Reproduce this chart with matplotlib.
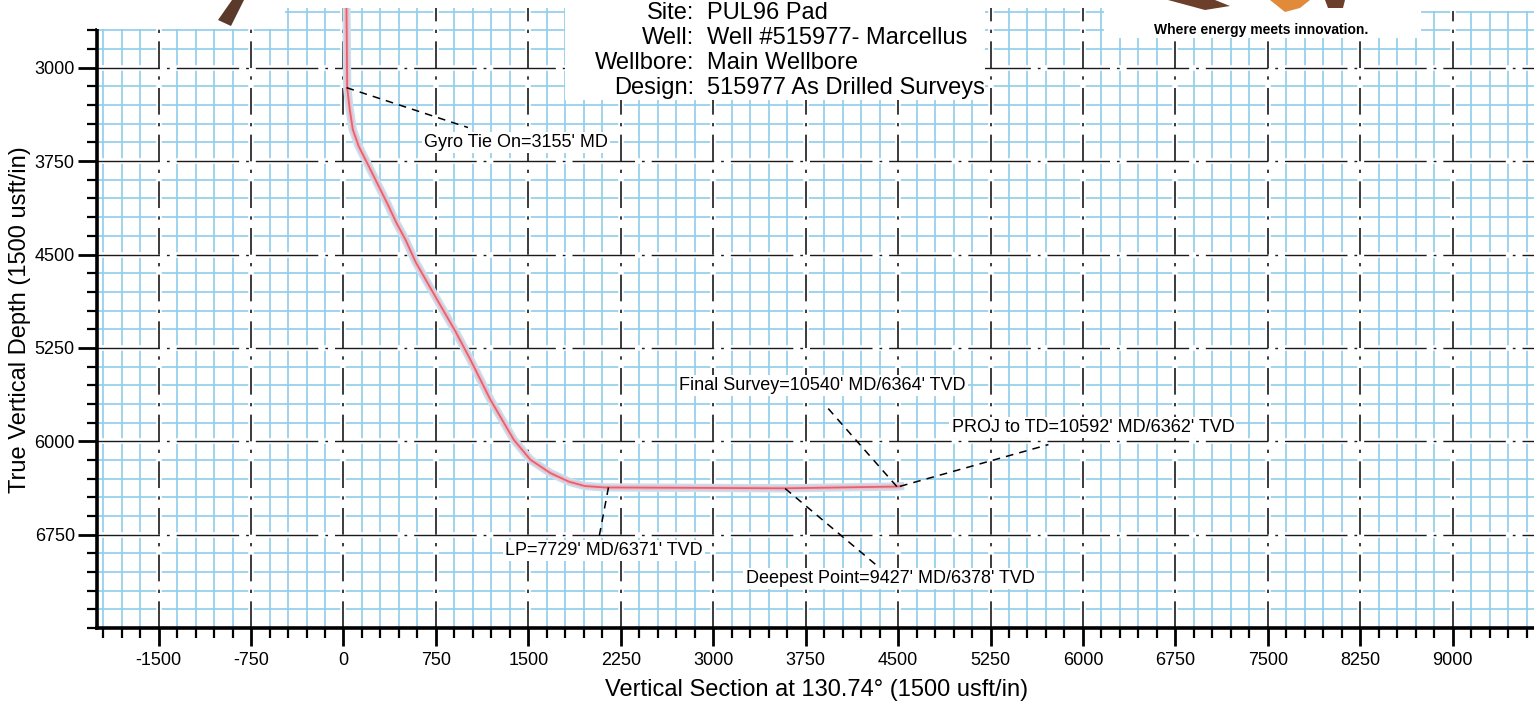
import numpy as np
import matplotlib.pyplot as plt
from matplotlib.patches import Rectangle, Polygon
from matplotlib.ticker import FixedLocator

plt.rcParams['font.family'] = ['Liberation Sans', 'DejaVu Sans']

# well path (vertical section vs true vertical depth), usft
vs_ft = [0, 25, 30, 51, 76, 124, 192, 273, 354, 430, 503, 585, 760, 908,
         1030, 1192, 1381, 1516, 1678, 1830, 1960, 2120, 2800, 3580, 4490, 4516]
tvd_ft = [0, 2600, 3160, 3337, 3498, 3632, 3765, 3926, 4087, 4247, 4381,
          4560, 4863, 5117, 5345, 5666, 5987, 6148, 6255, 6325, 6360, 6371,
          6374, 6378, 6364, 6362]

# annotations: text, point on the well, leader end, label centre
ann_text = ["Gyro Tie On=3155' MD", "LP=7729' MD/6371' TVD",
            "Final Survey=10540' MD/6364' TVD",
            "PROJ to TD=10592' MD/6362' TVD",
            "Deepest Point=9427' MD/6378' TVD"]
ann_pt = [(25, 3160), (2150, 6371), (4490, 6364), (4516, 6362), (3584, 6380)]
ann_end = [(1010, 3480), (2070, 6790), (3900, 5700), (5720, 6027), (4330, 7000)]
ann_lbl = [(1400, 3600), (2110, 6880), (3884, 5553), (6081, 5891), (4435, 7103)]

header_keys = ["Site:", "Well:", "Wellbore:", "Design:"]
header_vals = ["PUL96 Pad", "Well #515977- Marcellus", "Main Wellbore",
               "515977 As Drilled Surveys"]

x_major = np.arange(-1500, 9001, 750)
y_major = np.arange(3000, 6751, 750)

W, H = 1534, 708
fig = plt.figure(figsize=(W / 100, H / 100), dpi=100)
ax = fig.add_axes([97 / W, 1 - 628 / H, 1 - 97 / W, 620 / H])
ax.set_xlim(-2000, 9660)
ax.set_ylim(7500, 2520)

# blue graph-paper grid every 150 usft
for x in np.arange(-1950, 9660, 150):
    ax.axvline(x, color='#8fcdea', lw=1.2, zorder=1)
for y in np.arange(2550, 7500, 150):
    ax.axhline(y, color='#8fcdea', lw=1.2, zorder=1)

# major dash-dot lines with white halo
for x in x_major:
    ax.axvline(x, color='white', lw=4, zorder=2)
    ax.axvline(x, color='#1a1a1a', lw=1.2, ls=(0, (16, 5, 2, 5)), zorder=3)
for y in np.arange(3000, 7500, 750):
    ax.axhline(y, color='white', lw=4, zorder=2)
    ax.axhline(y, color='#1a1a1a', lw=1.0, ls=(0, (45, 5, 2, 5)), zorder=3)

# well path
ax.plot(vs_ft, tvd_ft, color='#c4e0f2', lw=6, zorder=5)
ax.plot(vs_ft, tvd_ft, color='#f2bcc2', lw=3.5, zorder=6)
ax.plot(vs_ft, tvd_ft, color='#d8324c', lw=1.3, alpha=0.65, zorder=7)

for txt, p, e, c in zip(ann_text, ann_pt, ann_end, ann_lbl):
    ax.plot([p[0], e[0]], [p[1], e[1]], color='black', lw=1.1,
            ls=(0, (5, 4)), zorder=8)
    ax.text(c[0], c[1], txt, fontsize=13, ha='center', va='center', zorder=9,
            bbox=dict(facecolor='white', edgecolor='none', pad=1.5))

# axes styling
for s in ['top', 'right']:
    ax.spines[s].set_visible(False)
ax.spines['left'].set_bounds(7500, 2700)
ax.spines['left'].set_linewidth(2.6)
ax.spines['bottom'].set_linewidth(2.6)
ax.spines['left'].set_zorder(10)
ax.spines['bottom'].set_zorder(10)

ax.xaxis.set_major_locator(FixedLocator(x_major))
ax.xaxis.set_minor_locator(FixedLocator(np.arange(-1950, 9660, 150)))
ax.yaxis.set_major_locator(FixedLocator(y_major))
ax.yaxis.set_minor_locator(FixedLocator(np.arange(2700, 7501, 150)))
ax.set_xticklabels([str(v) for v in x_major])
ax.set_yticklabels([str(v) for v in y_major])
ax.tick_params(which='major', length=13, width=2, labelsize=13, pad=4)
ax.tick_params(which='minor', length=7, width=1.6)
ax.tick_params(axis='y', which='major', length=14, pad=2)

fig.text(817 / W, 1 - 690 / H, "Vertical Section at 130.74° (1500 usft/in)",
         fontsize=17, ha='center', va='center')
fig.text(20 / W, 1 - 320 / H, "True Vertical Depth (1500 usft/in)",
         fontsize=17, ha='center', va='center', rotation=90)

# white paper areas around the header and logo
for (x0, y0, x1, y1) in [(97, 0, 285, 29), (565, 0, 985, 100),
                         (1104, 0, 1421, 38), (1421, 0, W, 11)]:
    fig.add_artist(Rectangle((x0 / W, 1 - y1 / H), (x1 - x0) / W, (y1 - y0) / H,
                             transform=fig.transFigure, facecolor='white',
                             edgecolor='none', zorder=20))

for i, (k, v) in enumerate(zip(header_keys, header_vals)):
    yy = 1 - (13 + 25 * i) / H
    fig.text(694 / W, yy, k, fontsize=17, ha='right', va='center', zorder=21)
    fig.text(707 / W, yy, v, fontsize=17, ha='left', va='center', zorder=21)

# logo fragments
fig.add_artist(Polygon([(218 / W, 1 - 20 / H), (231 / W, 1 - 26 / H),
                        (244 / W, 1.0), (232 / W, 1.0)],
                       transform=fig.transFigure, facecolor='#5b3a2c',
                       edgecolor='none', zorder=22))
fig.add_artist(Polygon([(1168 / W, 1.0), (1205 / W, 1 - 10 / H),
                        (1230 / W, 1 - 6 / H), (1215 / W, 1.0)],
                       transform=fig.transFigure, facecolor='#6b3f2a',
                       edgecolor='none', zorder=22))
fig.add_artist(Polygon([(1270 / W, 1.0), (1285 / W, 1 - 12 / H),
                        (1300 / W, 1 - 8 / H), (1310 / W, 1.0)],
                       transform=fig.transFigure, facecolor='#e08a3a',
                       edgecolor='none', zorder=22))
fig.add_artist(Polygon([(1325 / W, 1.0), (1328 / W, 1 - 8 / H),
                        (1343 / W, 1 - 8 / H), (1345 / W, 1.0)],
                       transform=fig.transFigure, facecolor='#6b3f2a',
                       edgecolor='none', zorder=22))
fig.text(1261 / W, 1 - 30 / H, "Where energy meets innovation.", fontsize=10,
         fontweight='bold', ha='center', va='center', zorder=23)

fig.savefig('out.png', dpi=100)
